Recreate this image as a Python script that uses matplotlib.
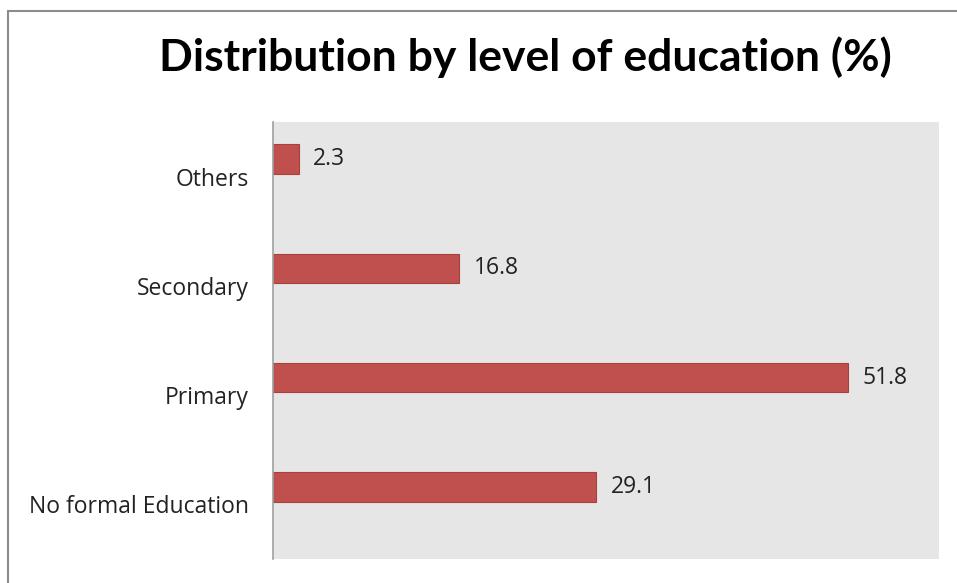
import matplotlib.pyplot as plt
import numpy as np
from matplotlib.patches import Rectangle

categories = ["No formal Education", "Primary", "Secondary", "Others"]
values = [29.1, 51.8, 16.8, 2.3]

W, H = 957, 583
fig = plt.figure(figsize=(W / 100, H / 100), dpi=100)
plt.rcParams['font.family'] = ['Open Sans', 'DejaVu Sans']

# outer chart frame (left/top visible)
fig.patches.append(Rectangle((8 / W, -0.1), 1.2, (H - 11) / H + 0.1,
                             transform=fig.transFigure, fill=False,
                             edgecolor='#8c8c8c', linewidth=1.5))

ax = fig.add_axes([273 / W, 1 - 559 / H, (939 - 273) / W, (559 - 122) / H])
ax.set_facecolor('#e6e6e6')

y = np.arange(len(categories))
bar_h = 0.27
offset = 0.16
bars = ax.barh(y + offset, values, height=bar_h, color='#c0504d',
               edgecolor='#a8403d', linewidth=0.8)

for yi, v in zip(y, values):
    ax.text(v + 1.3, yi + offset, f"{v}", va='center', ha='left',
            fontsize=16.5, color='#222222')

ax.set_xlim(0, 60)
ax.set_ylim(-0.5, len(categories) - 0.5)
ax.set_yticks(y)
ax.set_yticklabels(categories, fontsize=16.5, color='#222222')
ax.tick_params(axis='y', length=0, pad=17.5)
ax.set_xticks([])
for s in ['top', 'right', 'bottom']:
    ax.spines[s].set_visible(False)
ax.spines['left'].set_color('#a0a0a0')
ax.spines['left'].set_linewidth(1.2)

fig.text(525 / W, 1 - 57 / H, "Distribution by level of education (%)",
         ha='center', va='center', fontsize=32, fontweight='bold',
         family=['Lato', 'DejaVu Sans'], color='black')

fig.savefig("out.png", dpi=100)
